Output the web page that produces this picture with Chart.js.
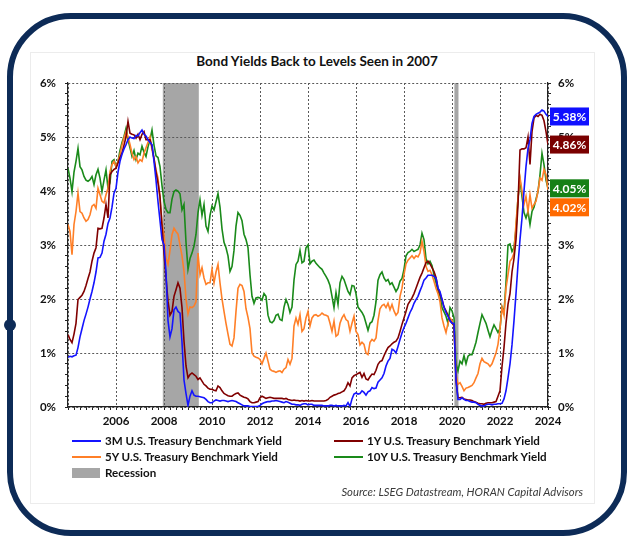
<!DOCTYPE html>
<html>
<head>
<meta charset="utf-8">
<script src="https://cdn.jsdelivr.net/npm/chart.js@4.4.1/dist/chart.umd.min.js"></script>
<style>
  html, body { margin: 0; padding: 0; background: #fff; }
  #wrap { position: relative; width: 640px; height: 540px; overflow: hidden; font-family: Lato, 'Noto Sans', sans-serif; color: #111; }
  .frame { position: absolute; left: 7px; top: 13px; width: 620px; height: 523px; box-sizing: border-box; border: 6px solid #0d2b57; border-radius: 64px; }
  .dot { position: absolute; left: 4px; top: 319px; width: 12px; height: 12px; border-radius: 50%; background: #0d2b57; }
  .panel { position: absolute; left: 30px; top: 52px; width: 565px; height: 452px; box-sizing: border-box; border: 1px solid #ececec; background: #fff; }
  #title { position: absolute; left: 0; width: 634px; top: 53px; line-height: 17px; text-align: center; font-weight: bold; font-size: 13.5px; }
  #chart { position: absolute; left: 0; top: 0; }
  .lg { position: absolute; font-size: 11.6px; font-weight: bold; line-height: 14px; white-space: nowrap; }
  .lg .sw { position: absolute; top: 6px; width: 29px; height: 2px; }
  .lg .box { position: absolute; top: 2px; width: 28px; height: 10px; }
  #source { position: absolute; right: 57px; top: 485px; font-size: 11.3px; font-style: italic; color: #3a3a3a; white-space: nowrap; }
</style>
</head>
<body>
<div id="wrap">
  <div class="frame"></div>
  <div class="dot"></div>
  <div class="panel"></div>
  <div id="title">Bond Yields Back to Levels Seen in 2007</div>
  <canvas id="chart" width="640" height="540"></canvas>
  <div id="legend"></div>
  <div id="source">Source: LSEG Datastream, HORAN Capital Advisors</div>
</div>
<script>
// 月度数据：2004-01 起，每年 12 个点，最后一个点为 2024-01
const START_YEAR = 2004;

const yield3M = [
  0.92, 0.94, 0.93, 0.95, 0.96, 1.10, 1.30, 1.45, 1.60, 1.72, 1.85, 2.00, // 2004
  2.14, 2.30, 2.50, 2.76, 2.77, 2.85, 3.07, 3.20, 3.40, 3.50, 3.70, 3.96, // 2005
  4.05, 4.35, 4.55, 4.68, 4.78, 4.86, 4.95, 5.00, 4.98, 4.97, 5.03, 5.02, // 2006
  5.08, 5.13, 5.05, 5.02, 4.95, 4.90, 4.86, 4.55, 4.20, 3.80, 3.45, 3.10, // 2007
  3.00, 2.50, 1.60, 1.30, 1.45, 1.80, 1.85, 1.77, 1.74, 1.20, 0.50, 0.25, // 2008
  0.03, 0.20, 0.30, 0.22, 0.20, 0.20, 0.19, 0.18, 0.17, 0.14, 0.10, 0.08, // 2009
  0.08, 0.11, 0.13, 0.12, 0.11, 0.12, 0.12, 0.11, 0.10, 0.11, 0.12, 0.11, // 2010
  0.10, 0.08, 0.06, 0.04, 0.02, 0.02, 0.02, 0.01, 0.01, 0.01, 0.01, 0.01, // 2011
  0.03, 0.06, 0.08, 0.09, 0.10, 0.10, 0.11, 0.11, 0.12, 0.11, 0.10, 0.09, // 2012
  0.08, 0.10, 0.09, 0.07, 0.05, 0.05, 0.04, 0.04, 0.03, 0.05, 0.06, 0.06, // 2013
  0.04, 0.05, 0.05, 0.03, 0.03, 0.03, 0.03, 0.03, 0.02, 0.02, 0.02, 0.03, // 2014
  0.03, 0.02, 0.03, 0.02, 0.02, 0.02, 0.03, 0.02, 0.08, 0.01, 0.15, 0.24, // 2015
  0.26, 0.24, 0.25, 0.30, 0.27, 0.22, 0.28, 0.30, 0.36, 0.34, 0.35, 0.46, // 2016
  0.50, 0.54, 0.62, 0.76, 0.85, 0.90, 1.07, 1.05, 1.00, 1.12, 1.25, 1.37, // 2017
  1.47, 1.55, 1.65, 1.75, 1.82, 1.92, 1.99, 2.05, 2.15, 2.24, 2.35, 2.39, // 2018
  2.44, 2.44, 2.44, 2.42, 2.39, 2.20, 2.14, 1.99, 1.85, 1.75, 1.68, 1.60, // 2019
  1.55, 1.55, 0.50, 0.14, 0.14, 0.17, 0.14, 0.12, 0.12, 0.10, 0.09, 0.09, // 2020
  0.08, 0.05, 0.03, 0.02, 0.02, 0.04, 0.05, 0.05, 0.04, 0.05, 0.05, 0.06, // 2021
  0.06, 0.07, 0.15, 0.30, 0.54, 0.80, 1.15, 1.60, 2.10, 2.64, 3.10, 3.50, // 2022
  4.00, 4.45, 4.79, 4.95, 5.25, 5.38, 5.42, 5.44, 5.46, 5.50, 5.48, 5.42, // 2023
  5.38                                                                    // 2024-01
];

const yield1Y = [
  1.34, 1.25, 1.19, 1.35, 1.55, 1.99, 2.03, 2.07, 2.14, 2.25, 2.38, 2.50,
  2.70, 2.85, 2.95, 3.31, 3.30, 3.31, 3.50, 3.75, 3.50, 4.30, 4.36, 4.40,
  4.42, 4.52, 4.62, 4.70, 4.85, 5.00, 5.29, 5.07, 5.05, 5.04, 4.98, 5.05,
  4.95, 5.05, 5.10, 4.95, 4.95, 4.95, 4.82, 4.60, 4.35, 4.15, 3.90, 3.35,
  2.85, 2.39, 1.96, 1.70, 1.77, 2.05, 2.17, 2.30, 2.20, 1.84, 1.22, 0.76,
  0.54, 0.60, 0.63, 0.60, 0.57, 0.51, 0.54, 0.48, 0.42, 0.39, 0.35, 0.33,
  0.33, 0.31, 0.30, 0.39, 0.36, 0.30, 0.25, 0.23, 0.21, 0.20, 0.20, 0.23,
  0.25, 0.26, 0.22, 0.20, 0.18, 0.17, 0.15, 0.10, 0.08, 0.08, 0.09, 0.10,
  0.17, 0.20, 0.18, 0.16, 0.17, 0.18, 0.17, 0.16, 0.16, 0.16, 0.16, 0.16,
  0.15, 0.16, 0.14, 0.13, 0.12, 0.13, 0.12, 0.12, 0.11, 0.12, 0.11, 0.12,
  0.11, 0.11, 0.12, 0.11, 0.11, 0.11, 0.11, 0.11, 0.11, 0.12, 0.14, 0.18,
  0.20, 0.22, 0.23, 0.25, 0.26, 0.28, 0.30, 0.36, 0.45, 0.39, 0.54, 0.58,
  0.60, 0.62, 0.64, 0.55, 0.62, 0.52, 0.50, 0.56, 0.61, 0.60, 0.68, 0.79,
  0.84, 0.86, 0.95, 1.03, 1.10, 1.13, 1.17, 1.20, 1.22, 1.28, 1.40, 1.53,
  1.65, 1.77, 1.90, 1.96, 2.02, 2.10, 2.20, 2.30, 2.40, 2.48, 2.58, 2.67,
  2.70, 2.65, 2.58, 2.51, 2.40, 2.20, 2.10, 1.99, 1.85, 1.78, 1.70, 1.60,
  1.55, 1.52, 0.50, 0.17, 0.17, 0.18, 0.15, 0.14, 0.13, 0.13, 0.12, 0.10,
  0.09, 0.07, 0.06, 0.06, 0.05, 0.07, 0.08, 0.08, 0.08, 0.09, 0.10, 0.20,
  0.30, 0.75, 1.10, 1.55, 1.90, 2.10, 2.50, 2.75, 3.10, 3.75, 4.76, 4.78,
  4.78, 4.80, 5.00, 4.49, 5.10, 5.35, 5.40, 5.38, 5.42, 5.40, 5.30, 5.10,
  4.86
];

const yield5Y = [
  3.38, 3.25, 2.82, 3.38, 3.62, 3.96, 3.62, 3.59, 3.50, 3.44, 3.47, 3.56,
  3.72, 3.75, 3.68, 4.05, 3.93, 3.81, 3.78, 3.93, 4.05, 4.36, 4.49, 4.55,
  4.45, 4.55, 4.68, 4.85, 4.98, 5.10, 5.01, 4.86, 4.70, 4.58, 4.64, 4.52,
  4.58, 4.55, 4.70, 4.80, 4.90, 5.00, 4.76, 4.60, 4.39, 4.24, 3.85, 3.40,
  3.19, 2.76, 2.64, 2.90, 3.19, 3.31, 3.25, 3.20, 3.00, 2.80, 2.51, 2.00,
  1.72, 1.85, 1.84, 1.87, 1.95, 2.85, 2.45, 2.58, 2.39, 2.27, 2.30, 2.30,
  2.55, 2.30, 2.50, 2.64, 2.30, 2.00, 1.77, 1.55, 1.35, 1.16, 1.13, 1.28,
  1.77, 2.20, 2.27, 2.25, 2.14, 1.82, 1.66, 1.45, 1.00, 0.94, 0.92, 0.91,
  0.88, 0.80, 0.90, 1.00, 0.85, 0.70, 0.67, 0.66, 0.64, 0.66, 0.67, 0.64,
  0.70, 0.73, 0.88, 0.79, 0.90, 1.50, 1.65, 1.53, 1.71, 1.40, 1.45, 1.65,
  1.77, 1.50, 1.65, 1.70, 1.71, 1.68, 1.70, 1.74, 1.71, 1.70, 1.68, 1.55,
  1.40, 1.59, 1.31, 1.34, 1.55, 1.65, 1.71, 1.62, 1.59, 1.40, 1.55, 1.68,
  1.40, 1.34, 1.15, 1.20, 1.16, 1.00, 0.97, 1.20, 1.25, 1.22, 1.28, 1.60,
  1.82, 1.88, 1.90, 1.84, 1.92, 1.80, 1.90, 1.78, 1.70, 1.75, 2.05, 2.20,
  2.45, 2.65, 2.72, 2.76, 2.80, 2.75, 2.80, 2.78, 2.85, 3.07, 2.88, 2.60,
  2.51, 2.53, 2.45, 2.33, 2.20, 2.10, 1.95, 1.65, 1.50, 1.38, 1.55, 1.65,
  1.60, 1.47, 0.60, 0.42, 0.45, 0.38, 0.30, 0.35, 0.36, 0.38, 0.40, 0.45,
  0.54, 0.62, 0.80, 0.90, 0.84, 0.82, 0.80, 0.75, 0.80, 0.90, 1.00, 1.16,
  1.45, 1.85, 1.70, 2.20, 2.45, 2.70, 2.75, 2.85, 3.40, 3.87, 4.25, 4.00,
  3.75, 3.90, 3.62, 3.93, 3.68, 3.75, 3.81, 4.00, 4.24, 4.20, 4.40, 4.30,
  4.02
];

const yield10Y = [
  4.42, 4.24, 3.99, 4.35, 4.55, 4.79, 4.45, 4.39, 4.27, 4.20, 4.18, 4.21,
  4.27, 4.12, 4.30, 4.40, 4.24, 3.99, 4.20, 4.39, 4.05, 4.15, 4.55, 4.58,
  4.45, 4.55, 4.75, 4.90, 5.01, 5.16, 4.95, 4.80, 4.64, 4.75, 4.58, 4.70,
  4.67, 4.83, 4.72, 4.64, 4.82, 4.95, 5.13, 4.85, 4.65, 4.62, 4.45, 4.10,
  3.81, 3.66, 3.60, 3.60, 3.85, 3.99, 4.02, 4.00, 3.95, 3.65, 3.75, 3.05,
  2.55, 2.75, 2.85, 2.98, 3.20, 3.60, 3.84, 3.55, 3.75, 3.35, 3.25, 3.55,
  3.72, 3.65, 3.80, 3.95, 3.70, 3.30, 3.05, 2.95, 2.80, 2.51, 2.60, 2.90,
  3.35, 3.60, 3.55, 3.45, 3.20, 3.10, 2.95, 2.45, 2.05, 1.92, 2.02, 2.03,
  2.02, 1.98, 2.10, 2.05, 1.70, 1.58, 1.56, 1.60, 1.70, 1.72, 1.62, 1.60,
  1.85, 1.99, 1.90, 1.75, 1.85, 2.35, 2.64, 2.70, 2.90, 2.67, 2.70, 2.95,
  3.00, 2.65, 2.70, 2.72, 2.66, 2.62, 2.58, 2.55, 2.48, 2.42, 2.35, 2.25,
  2.05, 1.84, 2.12, 1.90, 2.30, 2.42, 2.36, 2.25, 2.14, 2.08, 2.25, 2.24,
  2.10, 1.85, 1.80, 1.75, 1.68, 1.55, 1.42, 1.55, 1.58, 1.70, 1.95, 2.35,
  2.45, 2.50, 2.39, 2.33, 2.36, 2.27, 2.30, 2.22, 2.14, 2.20, 2.33, 2.38,
  2.55, 2.80, 2.86, 2.88, 2.92, 2.88, 2.90, 2.92, 3.00, 3.22, 3.10, 2.75,
  2.65, 2.70, 2.62, 2.45, 2.30, 2.14, 2.05, 1.84, 1.76, 1.68, 1.55, 1.84,
  1.78, 1.65, 0.80, 0.67, 0.85, 0.80, 0.95, 0.80, 0.94, 0.97, 0.97, 1.08,
  1.20, 1.38, 1.55, 1.71, 1.63, 1.55, 1.42, 1.30, 1.42, 1.52, 1.45, 1.38,
  1.45, 1.85, 1.75, 2.30, 3.00, 3.02, 2.88, 2.95, 3.30, 3.87, 4.20, 3.90,
  3.60, 3.50, 3.62, 3.38, 3.62, 3.70, 3.85, 3.99, 4.30, 4.70, 4.49, 4.20,
  4.05
];

const seriesNames = [
  '3M U.S. Treasury Benchmark Yield',
  '1Y U.S. Treasury Benchmark Yield',
  '5Y U.S. Treasury Benchmark Yield',
  '10Y U.S. Treasury Benchmark Yield',
];
const seriesValues = [yield3M, yield1Y, yield5Y, yield10Y];
const seriesColors = ['#1414ff', '#800000', '#ff7f27', '#1a8a1a'];
const labelColors = ['#1010ff', '#7a0000', '#ff6a00', '#168016']; // 右侧末值标签底色

// 衰退区间（小数年）
const recessionStart = [2007.95, 2020.1];
const recessionEnd = [2009.45, 2020.27];
const RECESSION_COLOR = '#a6a6a6';

const isWhole = (v) => Math.abs(v - Math.round(v)) < 1e-6;
const isEvenYear = (v) => isWhole(v) && Math.round(v) % 2 === 0;
const tickFont = { family: 'Lato', size: 11.5, weight: 'bold' };
const GRID = '#5a5a5a';

// ---- 衰退阴影：先于网格线画，网格虚线压在灰底上 ----
const recessionPlugin = {
  id: 'recessions',
  beforeDraw(chart) {
    const { ctx, chartArea: a, scales: { x } } = chart;
    ctx.save();
    ctx.fillStyle = RECESSION_COLOR;
    recessionStart.forEach((s, i) => {
      const x0 = x.getPixelForValue(s);
      const x1 = x.getPixelForValue(recessionEnd[i]);
      ctx.fillRect(x0, a.top, x1 - x0, a.bottom - a.top);
    });
    ctx.restore();
  },
};

// ---- 右侧末值标签：按数值定位，重叠时依次下推 ----
const endLabelPlugin = {
  id: 'endLabels',
  afterDraw(chart) {
    const { ctx, chartArea: a, scales: { y } } = chart;
    const H = 18, W = 39;
    const items = seriesValues.map((vals, i) => ({ v: vals[vals.length - 1], c: labelColors[i] }))
      .sort((p, q) => q.v - p.v);
    let prevBottom = -Infinity;
    ctx.save();
    ctx.font = 'bold 12px Lato';
    ctx.textAlign = 'center';
    ctx.textBaseline = 'middle';
    items.forEach((it) => {
      let top = y.getPixelForValue(it.v) - H / 2;
      if (top < prevBottom + 1) top = prevBottom + 1;
      ctx.fillStyle = it.c;
      ctx.fillRect(a.right + 2, top, W, H);
      ctx.fillStyle = '#fff';
      ctx.fillText(it.v.toFixed(2) + '%', a.right + 2 + W / 2, top + H / 2 + 0.5);
      prevBottom = top + H;
    });
    ctx.restore();
  },
};

const yTicks = {
  stepSize: 0.2, autoSkip: false, color: '#111', font: tickFont,
  callback: (v) => (isWhole(v) ? Math.round(v) + '%' : ''),
};

new Chart(document.getElementById('chart'), {
  type: 'line',
  data: {
    datasets: seriesNames.map((name, i) => ({
      label: name,
      data: seriesValues[i].map((v, m) => ({ x: START_YEAR + m / 12, y: v })),
      borderColor: seriesColors[i],
      borderWidth: 1.6,
      pointRadius: 0,
      tension: 0,
      fill: false,
    })),
  },
  options: {
    responsive: false,
    animation: false,
    layout: { padding: { top: 83, left: 0, right: 0, bottom: 0 } },
    plugins: { legend: { display: false }, tooltip: { enabled: false } },
    scales: {
      x: {
        type: 'linear', min: 2004, max: 2024,
        ticks: {
          stepSize: 0.25, autoSkip: false, maxRotation: 0, padding: 4, color: '#111', font: tickFont,
          callback: (v) => (isEvenYear(v) && v > 2004 ? String(Math.round(v)) : ''),
        },
        grid: {
          color: (c) => (c.tick && isEvenYear(c.tick.value) ? GRID : 'rgba(0,0,0,0)'),
          lineWidth: 1, tickColor: '#222', tickLength: 3, tickWidth: 1,
        },
        border: { display: true, color: '#222', width: 1.2, dash: [2, 2] },
        afterFit: (s) => { s.height = 133; },
      },
      y: {
        position: 'left', min: 0, max: 6,
        ticks: { ...yTicks, padding: 9 },
        grid: {
          color: (c) => (c.tick && isWhole(c.tick.value) ? GRID : 'rgba(0,0,0,0)'),
          lineWidth: 1, tickColor: '#222', tickLength: 3, tickWidth: 1,
        },
        border: { display: true, color: '#222', width: 1.2, dash: [2, 2] },
        afterFit: (s) => { s.width = 68; },
      },
      y2: {
        position: 'right', min: 0, max: 6,
        ticks: { ...yTicks, padding: 7 },
        grid: { drawOnChartArea: false, tickColor: '#222', tickLength: 3, tickWidth: 1 },
        border: { display: true, color: '#222', width: 1.2 },
        afterFit: (s) => { s.width = 92; },
      },
    },
  },
  plugins: [recessionPlugin, endLabelPlugin],
});

// ---- HTML 图例：两列，第三行为衰退 ----
const legendPos = [[72, 434], [334, 434], [72, 450], [334, 450]];
let lg = '';
seriesNames.forEach((name, i) => {
  const [lx, ly] = legendPos[i];
  lg += `<div class="lg" style="left:${lx}px;top:${ly}px;padding-left:33px;"><span class="sw" style="left:0;background:${seriesColors[i]};"></span>${name}</div>`;
});
lg += `<div class="lg" style="left:72px;top:466px;padding-left:33px;"><span class="box" style="left:0;background:${RECESSION_COLOR};"></span>Recession</div>`;
document.getElementById('legend').innerHTML = lg;
</script>
</body>
</html>
